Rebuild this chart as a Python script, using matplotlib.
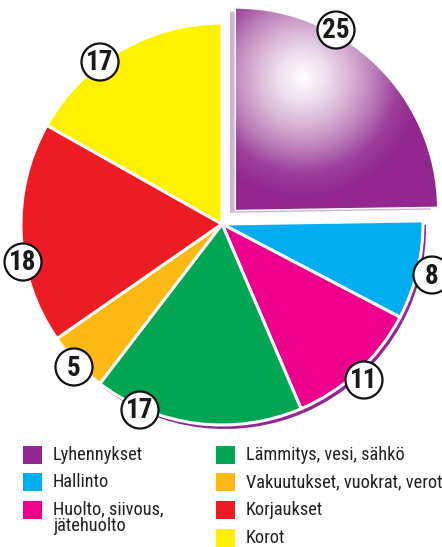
import matplotlib.pyplot as plt
import numpy as np
from matplotlib import font_manager
from matplotlib.colors import LinearSegmentedColormap
from matplotlib.patches import Circle, Rectangle

# Data
categories = ["Lyhennykset", "Hallinto", "Huolto, siivous,\njätehuolto",
              "Lämmitys, vesi, sähkö", "Vakuutukset, vuokrat, verot",
              "Korjaukset", "Korot"]
values = [25, 8, 11, 17, 5, 18, 17]
colors = ["#92278f", "#00aeef", "#ec008c", "#00a651", "#fdb913", "#ed1c24", "#fff200"]

W, H = 442, 547

# pick a condensed face if one is installed
installed = {f.name for f in font_manager.fontManager.ttflist}
stretch = "normal"
FONT = ["DejaVu Sans"]
for cand in ["Liberation Sans Narrow", "Roboto Condensed", "Open Sans Condensed",
             "DejaVu Sans Condensed", "Noto Sans Condensed"]:
    if cand in installed:
        FONT = [cand, "DejaVu Sans"]
        break
else:
    stretch = "condensed"

fig = plt.figure(figsize=(W / 100, H / 100), dpi=100)
ax = fig.add_axes([0, 0, 1, 1])

# pie geometry in pixel units (y measured from top of image)
cx, cy, r = 222, 224, 201
center = (cx, H - cy)
explode = [20] + [0] * (len(values) - 1)

# purple rim under the lower right slices
rim_colors = ["none", "#92278f", "#92278f", "#92278f", "none", "none", "none"]
ax.pie(values, colors=rim_colors, startangle=90, counterclock=False,
       center=(cx + 3, H - cy - 4), radius=r, wedgeprops=dict(linewidth=0))

# light shadow behind the exploded slice
shadow_colors = ["#d2b2d3"] + ["none"] * (len(values) - 1)
ax.pie(values, colors=shadow_colors, startangle=90, counterclock=False,
       center=(cx - 6, H - cy - 3), radius=r, explode=explode,
       wedgeprops=dict(linewidth=0))

wedges, _ = ax.pie(values, colors=colors, startangle=90, counterclock=False,
                   center=center, radius=r, explode=explode,
                   wedgeprops=dict(edgecolor="white", linewidth=2.2))

# radial highlight on the first slice
gx, gy = 302, 77
X, Y = np.meshgrid(np.arange(W), np.arange(H))
dist = np.hypot(X - gx, Y - gy) / 120
cmap = LinearSegmentedColormap.from_list(
    "glow", ["#ffffff", "#efdfee", "#d8b2d6", "#bb7fb8", "#9e3d9b", "#92278f"])
im = ax.imshow(np.clip(dist, 0, 1), cmap=cmap, vmin=0, vmax=1,
               extent=(0, W, 0, H), origin="upper", zorder=2)
im.set_clip_path(wedges[0])

# value badges
label_xy = [(336, 30), (432, 275), (364, 380), (140, 410), (74, 367), (23, 262), (100, 62)]
for v, (lx, ly) in zip(values, label_xy):
    ax.add_patch(Circle((lx, H - ly), 18.5, facecolor="white", edgecolor="#111111",
                        linewidth=1.6, zorder=5))
    ax.text(lx, H - ly - 1, str(v), ha="center", va="center", fontsize=19.5,
            fontweight="bold", family=FONT, fontstretch=stretch,
            color="#1a1a1a", zorder=6)

# legend
legend_pos = [(23, 446), (23, 473), (23, 501), (216, 446), (216, 473), (216, 501), (216, 529)]
for cat, col, (lx, ly) in zip(categories, colors, legend_pos):
    ax.add_patch(Rectangle((lx, H - ly - 18), 19, 18, facecolor=col, linewidth=0))
    if "\n" in cat:
        ax.text(lx + 30, H - ly + 1, cat, ha="left", va="top", fontsize=13.2,
                family=FONT, fontstretch=stretch, color="#231f20", linespacing=0.95)
    else:
        ax.text(lx + 30, H - ly - 9, cat, ha="left", va="center", fontsize=13.2,
                family=FONT, fontstretch=stretch, color="#231f20")

ax.set_xlim(0, W)
ax.set_ylim(0, H)
ax.set_aspect("auto")
ax.axis("off")

fig.savefig("out.png", dpi=100)
